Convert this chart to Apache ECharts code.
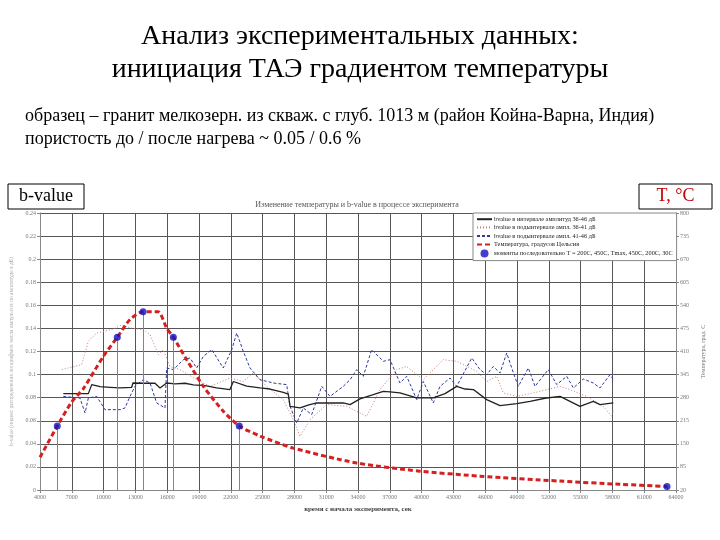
<!DOCTYPE html>
<html><head><meta charset="utf-8">
<script src="https://cdn.jsdelivr.net/npm/echarts@6/dist/echarts.min.js"></script>
<style>html,body{margin:0;padding:0;background:#fff}#c{width:720px;height:540px}</style>
</head><body><div id="c"></div>
<script>
// b-value, interval 36-46 dB (black solid)
const blackT=[6200,8560,8880,9660,10600,11550,12650,12770,13900,14850,15320,15950,16740,17680,18460,19570,20670,21920,22240,23500,24750,25700,26950,27420,27590,28530,29280,30100,31360,32610,33250,34190,35440,36390,37020,37960,39540,41100,42210,43310,44100,44880,46140,47400,48970,50230,51640,53060,54940,56200,56830,58090];
const blackB=[0.0835,0.0835,0.0913,0.0895,0.089,0.0885,0.089,0.0927,0.0925,0.0925,0.0884,0.0927,0.092,0.0925,0.091,0.0905,0.0884,0.087,0.094,0.09,0.0884,0.0875,0.0846,0.0831,0.0725,0.0711,0.0735,0.0754,0.0755,0.0754,0.074,0.0789,0.0826,0.0855,0.085,0.0841,0.0798,0.0798,0.0835,0.0898,0.0875,0.087,0.0783,0.0731,0.0748,0.0768,0.0795,0.0811,0.0725,0.0768,0.074,0.0754];
// b-value, sub-interval 36-41 dB (red dotted)
const redT=[6050,7930,8560,9350,10920,11710,12490,13750,14380,15160,15630,16260,17210,18780,20040,21920,23180,24120,25390,26950,27900,28530,29470,31050,32930,34820,36080,37650,38590,40160,42050,43310,45200,46140,47090,47710,48970,50540,53060,54000,55580,57140,57930,58090];
const redB=[0.1043,0.1086,0.1288,0.136,0.1395,0.143,0.1404,0.139,0.1346,0.1173,0.1216,0.107,0.1043,0.0956,0.0898,0.097,0.094,0.1014,0.0898,0.0783,0.061,0.0465,0.061,0.074,0.0725,0.0638,0.087,0.1043,0.107,0.0956,0.1129,0.1115,0.1028,0.094,0.0985,0.0841,0.0811,0.0841,0.0898,0.087,0.0811,0.0725,0.0638,0.0696];
// b-value, sub-interval 41-46 dB (blue dashed)
const blueT=[6200,7770,8250,8560,9350,10130,11550,12020,12490,12960,13750,14380,15010,15790,15950,16580,17520,18150,18780,19410,20200,21290,22090,22560,23180,23810,24750,26010,27270,27590,28220,28840,29630,30580,31360,32610,33250,33880,34500,35290,36390,37020,37960,38590,39540,40160,41100,41740,42680,43310,44730,45510,46140,46760,47400,48030,48660,49120,50070,50700,51950,52750,53690,54320,55260,56200,56830,57770,58090];
const blueB=[0.0811,0.0797,0.0667,0.0797,0.0811,0.0696,0.0696,0.0711,0.0811,0.0898,0.0956,0.0927,0.0754,0.0711,0.1057,0.1043,0.1129,0.1144,0.1057,0.1158,0.1216,0.1057,0.1216,0.136,0.1201,0.1057,0.0956,0.0927,0.0913,0.0725,0.0581,0.0711,0.0653,0.0898,0.0811,0.0898,0.0956,0.1043,0.0985,0.1216,0.1115,0.1129,0.0927,0.0985,0.0783,0.094,0.0754,0.0898,0.097,0.0898,0.1144,0.1043,0.0999,0.107,0.1014,0.1187,0.1014,0.0898,0.1057,0.0898,0.1043,0.0913,0.0985,0.0884,0.0962,0.0927,0.0884,0.0999,0.0956];
// temperature, °C (red dashed)
const tempT=[4000,5630,6990,8080,9970,11290,12490,13720,15130,15950,16580,17840,19410,21290,22800,24760,27900,33880,39850,45510,53060,58720,63150];
const tempV=[112,200,268,305,396,450,500,522,522,476,450,387,312,242,200,172,138,96,73,59,45,36,30];
// marked moments
const markT=[5630,11290,13720,16580,22800,63150];
const markV=[200,450,522,450,200,30];

const names=['bvalue в интервале амплитуд 36-46 дБ','bvalue в подынтервале ампл. 36-41 дБ','bvalue в подынтервале ампл. 41-46 дБ','Температура, градусов Цельсия','моменты последовательно T = 200C, 450C, Tmax, 450C, 200C, 30C'];

const zip=(a,b)=>a.map((v,i)=>[v,b[i]]);
const serif='"Liberation Serif","DejaVu Serif",serif';
const small={fontSize:6,color:'#777',fontFamily:serif};
const plain=v=>String(Math.round(v));

const chart=echarts.init(document.getElementById('c'));
chart.setOption({
  animation:false,
  backgroundColor:'#fff',
  grid:{left:40,right:44,top:213,bottom:50,containLabel:false},
  xAxis:{type:'value',min:4000,max:64000,interval:3000,
    name:'время с начала эксперимента, сек',nameLocation:'middle',nameGap:16,
    nameTextStyle:{fontSize:7,color:'#444',fontFamily:serif,fontWeight:'bold'},
    axisLine:{lineStyle:{color:'#888'}},axisTick:{length:3,lineStyle:{color:'#888'}},
    axisLabel:Object.assign({margin:4,formatter:plain},small),
    splitLine:{show:true,lineStyle:{color:'#555',width:1}}},
  yAxis:[
    {type:'value',min:0,max:0.24,interval:0.02,position:'left',
     name:'b-value (индекс распределения логарифмов числа импульсов по амплитуде в дБ)',nameLocation:'middle',nameGap:6,nameRotate:90,
     nameTextStyle:{fontSize:5.5,color:'#aaa',fontFamily:serif},
     axisLine:{show:true,lineStyle:{color:'#888'}},axisTick:{show:true,length:3,lineStyle:{color:'#888'}},
     axisLabel:Object.assign({margin:4},small),
     splitLine:{show:true,lineStyle:{color:'#555',width:1}}},
    {type:'value',min:20,max:800,interval:65,position:'right',
     name:'Температура, град. С',nameLocation:'middle',nameGap:24,nameRotate:90,
     nameTextStyle:{fontSize:6,color:'#777',fontFamily:serif},
     axisLine:{show:true,lineStyle:{color:'#888'}},axisTick:{show:true,length:3,lineStyle:{color:'#888'}},
     axisLabel:Object.assign({margin:4,formatter:plain},small),
     splitLine:{show:false}}
  ],
  legend:{orient:'vertical',left:473,top:213,itemGap:2,itemWidth:15,itemHeight:8,
    padding:[3,4,3,3],backgroundColor:'#fff',borderColor:'#888',borderWidth:1,
    textStyle:{fontSize:6.3,color:'#222',fontFamily:serif,padding:[0,0,0,-3]},
    data:[
      {name:names[0],itemStyle:{opacity:0}},
      {name:names[1],itemStyle:{opacity:0}},
      {name:names[2],itemStyle:{opacity:0}},
      {name:names[3],itemStyle:{opacity:0}},
      {name:names[4]}
    ]},
  series:[
    {name:names[0],type:'line',data:zip(blackT,blackB),showSymbol:false,symbol:'none',
     lineStyle:{color:'#222',width:1.3},itemStyle:{color:'#222'},z:3},
    {name:names[1],type:'line',data:zip(redT,redB),showSymbol:false,symbol:'none',
     lineStyle:{color:'#c87a7a',width:1,type:[1,2]},itemStyle:{color:'#c87a7a'},z:2},
    {name:names[2],type:'line',data:zip(blueT,blueB),showSymbol:false,symbol:'none',
     lineStyle:{color:'#2d3a9a',width:1,type:[3,2]},itemStyle:{color:'#2d3a9a'},z:2},
    {name:names[3],type:'line',yAxisIndex:1,data:zip(tempT,tempV),showSymbol:false,symbol:'none',smooth:0.25,
     lineStyle:{color:'#d42020',width:3,type:[5,3]},itemStyle:{color:'#d42020'},z:4},
    {name:names[4],type:'scatter',yAxisIndex:1,data:zip(markT,markV),symbol:'circle',symbolSize:7,
     itemStyle:{color:'#1010c0'},z:5,
     markLine:{silent:true,symbol:'none',label:{show:false},
       lineStyle:{color:'#7080d0',width:1,type:'solid'},
       data:markT.map((t,i)=>[{coord:[t,markV[i]]},{coord:[t,20]}])}}
  ],
  graphic:[
    {type:'text',left:'center',top:23,style:{text:'Анализ экспериментальных данных:',font:'28px '+serif,fill:'#000'}},
    {type:'text',left:'center',top:56,style:{text:'инициация ТАЭ градиентом температуры',font:'28px '+serif,fill:'#000'}},
    {type:'text',left:25,top:107,style:{text:'образец – гранит мелкозерн. из скваж. с глуб. 1013 м (район Койна-Варна, Индия)',font:'18px '+serif,fill:'#000'}},
    {type:'text',left:25,top:130,style:{text:'пористость до / после нагрева ~ 0.05 / 0.6 %',font:'18px '+serif,fill:'#000'}},
    {type:'rect',shape:{x:8,y:184,width:76,height:25},style:{fill:'#fff',stroke:'#000',lineWidth:1}},
    {type:'text',x:46,y:196.5,style:{text:'b-value',font:'18px '+serif,fill:'#000',align:'center',verticalAlign:'middle'}},
    {type:'rect',shape:{x:639,y:184,width:73,height:25},style:{fill:'#fff',stroke:'#000',lineWidth:1}},
    {type:'text',x:675.5,y:196.5,style:{text:'T, °C',font:'18px '+serif,fill:'#c00000',align:'center',verticalAlign:'middle'}},
    {type:'text',x:357,y:205,style:{text:'Изменение температуры и b-value в процессе эксперимента',font:'8px '+serif,fill:'#555',align:'center',verticalAlign:'middle'}}
  ]
});
</script></body></html>
